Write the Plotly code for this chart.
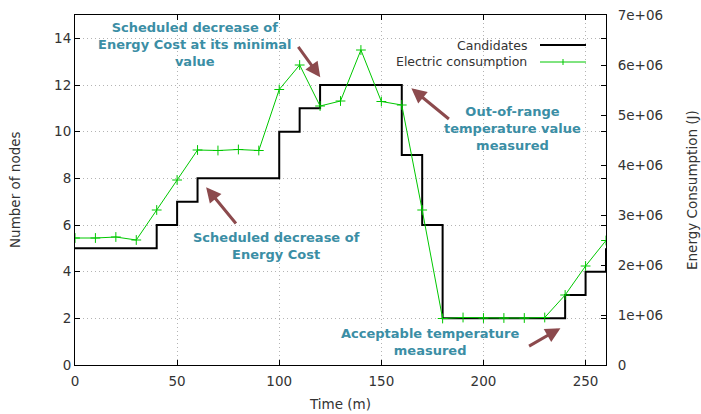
import plotly.graph_objects as go

# ---- data ----
cand_t = [0, 40, 50, 60, 100, 110, 120, 160, 170, 180, 240, 250, 260]
cand_n = [5, 6, 7, 8, 10, 11, 12, 9, 6, 2, 3, 4, 5]

elec_t = list(range(0, 261, 10))
elec_j = [2.54e6, 2.54e6, 2.56e6, 2.50e6, 3.10e6, 3.70e6, 4.30e6, 4.29e6, 4.31e6, 4.29e6,
          5.51e6, 6.00e6, 5.18e6, 5.28e6, 6.30e6, 5.27e6, 5.20e6, 3.10e6, 0.93e6, 0.95e6,
          0.94e6, 0.94e6, 0.94e6, 0.95e6, 1.40e6, 1.98e6, 2.49e6]

y2_vals = [0, 1e6, 2e6, 3e6, 4e6, 5e6, 6e6, 7e6]
y2_text = ["0", "1e+06", "2e+06", "3e+06", "4e+06", "5e+06", "6e+06", "7e+06"]

notes = [
    ("Scheduled decrease of<br>Energy Cost at its minimal<br>value", 58.8, 13.75),
    ("Scheduled decrease of<br>Energy Cost", 98.5, 5.1),
    ("Out-of-range<br>temperature value<br>measured", 214.2, 10.15),
    ("Acceptable temperature<br>measured", 174.0, 1.0),
]
arrows = [  # (tail_x, tail_y, head_x, head_y)
    (108.8, 13.7, 120.1, 12.33),
    (79.4, 6.0, 64.2, 7.62),
    (183.8, 10.49, 164.7, 11.86),
    (221.6, 0.77, 237.7, 1.58),
]

FONT = "DejaVu Sans"
TXT = "#333333"
GREEN = "#00c800"
TEAL = "#3b8ea5"
BROWN = "#8c4a4d"

W, H = 701, 414
L, R, T, B = 75, 95, 15, 49
pw, ph = W - L - R, H - T - B


def px(xp):
    return (xp - L) / pw


def py(yp):
    return (H - B - yp) / ph


fig = go.Figure()
fig.add_trace(go.Scatter(x=cand_t, y=cand_n, mode="lines", line=dict(shape="hv", color="black", width=2),
                         name="Candidates", showlegend=False))
fig.add_trace(go.Scatter(x=elec_t, y=elec_j, mode="lines+markers", yaxis="y2",
                         line=dict(color=GREEN, width=1),
                         marker=dict(symbol="cross-thin-open", size=7, line=dict(color=GREEN, width=1)),
                         name="Electric consumption", showlegend=False))

ann = []
for text, x, y in notes:
    ann.append(dict(x=x, y=y, xref="x", yref="y", text=text, showarrow=False, align="center",
                    font=dict(family=FONT, size=13, color=TEAL, weight="bold")))
for tx, ty, hx, hy in arrows:
    ann.append(dict(x=hx, y=hy, ax=tx, ay=ty, xref="x", yref="y", axref="x", ayref="y", text="",
                    showarrow=True, arrowhead=2, arrowsize=1, arrowwidth=3, arrowcolor=BROWN))

# gnuplot-style legend (text left, sample right)
ann.append(dict(x=px(529), y=py(45), xref="paper", yref="paper", text="Candidates", showarrow=False,
                xanchor="right", yanchor="middle", font=dict(family=FONT, size=12.5, color=TXT)))
ann.append(dict(x=px(529), y=py(62), xref="paper", yref="paper", text="Electric consumption", showarrow=False,
                xanchor="right", yanchor="middle", font=dict(family=FONT, size=12.5, color=TXT)))

# axis titles
ann.append(dict(x=px(340), y=py(404), xref="paper", yref="paper", text="Time (m)", showarrow=False,
                xanchor="center", yanchor="middle", font=dict(family=FONT, size=13.5, color=TXT)))
ann.append(dict(x=px(15), y=py(190), xref="paper", yref="paper", text="Number of nodes", showarrow=False,
                textangle=-90, xanchor="center", yanchor="middle", font=dict(family=FONT, size=13.5, color=TXT)))
ann.append(dict(x=px(692), y=py(190), xref="paper", yref="paper", text="Energy Consumption (J)", showarrow=False,
                textangle=-90, xanchor="center", yanchor="middle", font=dict(family=FONT, size=13.5, color=TXT)))

shapes = [
    dict(type="line", xref="paper", yref="paper", x0=px(540), x1=px(586), y0=py(45), y1=py(45),
         line=dict(color="black", width=2)),
    dict(type="line", xref="paper", yref="paper", x0=px(540), x1=px(586), y0=py(62), y1=py(62),
         line=dict(color=GREEN, width=1)),
    dict(type="line", xref="paper", yref="paper", x0=px(563), x1=px(563), y0=py(59), y1=py(65),
         line=dict(color=GREEN, width=1)),
]

axis_common = dict(showline=True, linecolor="black", linewidth=1, ticks="inside", ticklen=5,
                   tickcolor="black", tickfont=dict(family=FONT, size=13.5, color=TXT), zeroline=False,
                   automargin=False)

fig.update_layout(
    width=W, height=H, margin=dict(l=L, r=R, t=T, b=B, autoexpand=False),
    plot_bgcolor="white", paper_bgcolor="white",
    xaxis=dict(range=[0, 260], tickvals=[0, 50, 100, 150, 200, 250], mirror="ticks",
               showgrid=True, gridcolor="#b4b4b4", griddash="1px,3px", gridwidth=1, ticklabelstandoff=4,
               **axis_common),
    yaxis=dict(range=[0, 15], tickvals=[0, 2, 4, 6, 8, 10, 12, 14], mirror="ticks",
               showgrid=True, gridcolor="#b4b4b4", griddash="1px,3px", gridwidth=1,
               **axis_common),
    yaxis2=dict(range=[0, 7e6], overlaying="y", side="right", tickvals=y2_vals, ticktext=y2_text,
                showgrid=False, ticklabelstandoff=8, **axis_common),
    annotations=ann, shapes=shapes, showlegend=False,
)

fig.write_html("out.html", config={"displayModeBar": False},
               post_script="document.body.style.margin='0';document.body.style.overflow='hidden';")
